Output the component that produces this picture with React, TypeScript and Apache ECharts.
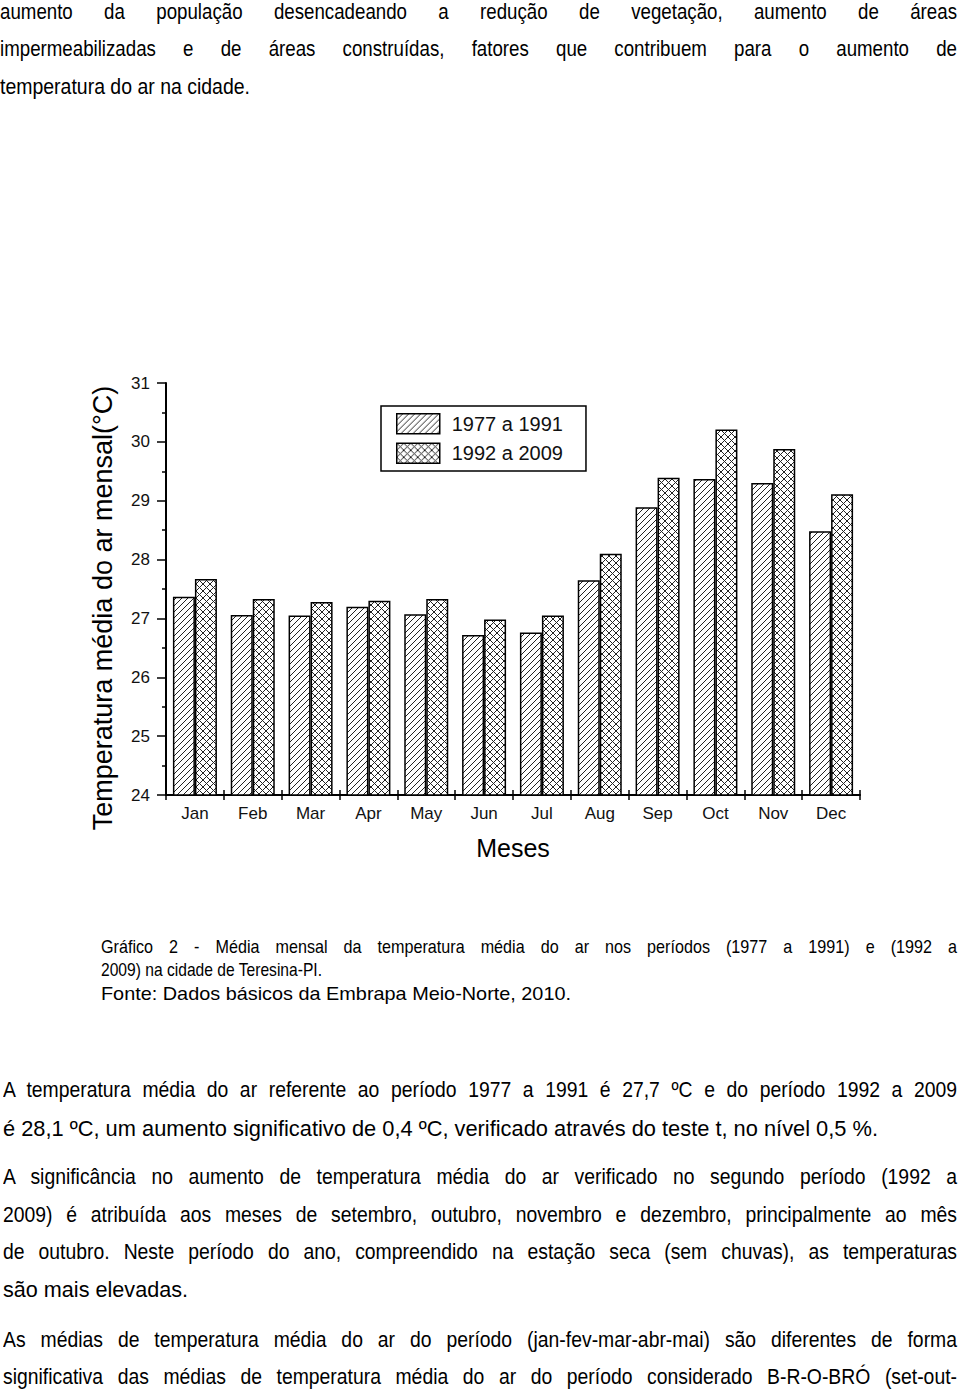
import React, { useEffect, useLayoutEffect, useRef } from "react";
import * as echarts from "echarts";

const months = ["Jan", "Feb", "Mar", "Apr", "May", "Jun", "Jul", "Aug", "Sep", "Oct", "Nov", "Dec"];
const seriesNames = ["1977 a 1991", "1992 a 2009"];
const temps1977 = [27.37, 27.06, 27.05, 27.2, 27.07, 26.72, 26.76, 27.65, 28.89, 29.37, 29.3, 28.48];
const temps1992 = [27.67, 27.33, 27.28, 27.3, 27.33, 26.98, 27.05, 28.1, 29.39, 30.21, 29.88, 29.11];
const yMin = 24;
const yMax = 31;
const yTitle = "Temperatura média do ar mensal(°C)";
const xTitle = "Meses";

type Line = { text: string; y: number; justify: boolean; right: number };

const topLines: Line[] = [
  { text: "aumento da população desencadeando a redução de vegetação, aumento de áreas", y: 12, justify: true, right: 957 },
  { text: "impermeabilizadas e de áreas construídas, fatores que contribuem para o aumento de", y: 49, justify: true, right: 957 },
  { text: "temperatura do ar na cidade.", y: 87, justify: false, right: 250 },
];

const captionLines: Line[] = [
  { text: "Gráfico 2 - Média mensal da temperatura média do ar nos períodos (1977 a 1991) e (1992 a", y: 947, justify: true, right: 957 },
  { text: "2009) na cidade de Teresina-PI.", y: 970, justify: false, right: 322 },
  { text: "Fonte: Dados básicos da Embrapa Meio-Norte, 2010.", y: 994, justify: false, right: 571 },
];

const bottomLines: Line[] = [
  { text: "A temperatura média do ar referente ao período 1977 a 1991 é 27,7 ºC e do período 1992 a 2009", y: 1090, justify: true, right: 957 },
  { text: "é 28,1 ºC, um aumento significativo de 0,4 ºC, verificado através do teste t, no nível 0,5 %.", y: 1129, justify: false, right: 878 },
  { text: "A significância no aumento de temperatura média do ar verificado no segundo período (1992 a", y: 1177, justify: true, right: 957 },
  { text: "2009) é atribuída aos meses de setembro, outubro, novembro e dezembro, principalmente ao mês", y: 1215, justify: true, right: 957 },
  { text: "de outubro. Neste período do ano, compreendido na estação seca (sem chuvas), as temperaturas", y: 1252, justify: true, right: 957 },
  { text: "são mais elevadas.", y: 1290, justify: false, right: 188 },
  { text: "As médias de temperatura média do ar do período (jan-fev-mar-abr-mai) são diferentes de forma", y: 1340, justify: true, right: 957 },
  { text: "significativa das médias de temperatura média do ar do período considerado B-R-O-BRÓ (set-out-", y: 1377, justify: true, right: 957 },
];

const FONT = '"Liberation Sans Narrow", "Arial Narrow", "Liberation Sans", Arial, sans-serif';

function makeHatch(p: number, cross: boolean) {
  const c = document.createElement("canvas");
  c.width = p;
  c.height = p;
  const ctx = c.getContext("2d")!;
  ctx.fillStyle = "#fff";
  ctx.fillRect(0, 0, p, p);
  ctx.strokeStyle = "#222";
  ctx.lineWidth = 1;
  ctx.beginPath();
  ctx.moveTo(-1, p + 1);
  ctx.lineTo(p + 1, -1);
  ctx.moveTo(-1, 1);
  ctx.lineTo(1, -1);
  ctx.moveTo(p - 1, p + 1);
  ctx.lineTo(p + 1, p - 1);
  if (cross) {
    ctx.moveTo(-1, -1);
    ctx.lineTo(p + 1, p + 1);
    ctx.moveTo(p - 1, -1);
    ctx.lineTo(p + 1, 1);
    ctx.moveTo(-1, p - 1);
    ctx.lineTo(1, p + 1);
  }
  ctx.stroke();
  return c;
}

function TextLine({ line, left, size, k }: { line: Line; left: number; size: number; k: number }) {
  const h = 30;
  const inner = useRef<HTMLSpanElement>(null);
  const target = line.right - left;
  useLayoutEffect(() => {
    const el = inner.current;
    if (!el) return;
    el.style.width = "auto";
    el.style.transform = "none";
    const natural = el.getBoundingClientRect().width;
    if (line.justify) {
      let kk = k;
      if (natural * kk > target * 0.97) kk = (target * 0.97) / natural;
      el.style.width = target / kk + "px";
      el.style.transform = `scaleX(${kk})`;
    } else {
      el.style.transform = `scaleX(${target / natural})`;
    }
  }, []);
  return (
    <div
      style={{
        position: "absolute",
        left,
        top: line.y - h / 2,
        height: h,
        lineHeight: h + "px",
        fontSize: size,
        fontFamily: FONT,
        color: "#000",
        whiteSpace: "nowrap",
      }}
    >
      <span
        ref={inner}
        style={{
          display: "inline-block",
          whiteSpace: "nowrap",
          transformOrigin: "0 50%",
          textAlign: line.justify ? "justify" : "left",
          textAlignLast: line.justify ? "justify" : "left",
        } as React.CSSProperties}
      >
        {line.text}
      </span>
    </div>
  );
}

function Chart() {
  const ref = useRef<HTMLDivElement>(null);
  useEffect(() => {
    if (!ref.current) return;
    const chart = echarts.init(ref.current, null, { renderer: "svg" });
    const p1 = makeHatch(6, false);
    const p2 = makeHatch(7, true);
    const axisFont = '"Liberation Sans", Arial, sans-serif';
    chart.setOption({
      animation: false,
      backgroundColor: "transparent",
      grid: { left: 166, width: 694, top: 23, height: 412, containLabel: false },
      legend: {
        left: 381,
        top: 46,
        orient: "vertical",
        itemWidth: 43,
        itemHeight: 20,
        itemGap: 8,
        padding: [7, 23, 7, 15],
        borderColor: "#000",
        borderWidth: 1.5,
        backgroundColor: "#fff",
        icon: "rect",
        data: seriesNames,
        textStyle: { fontSize: 20, color: "#111", fontFamily: axisFont, padding: [0, 0, 0, 7] },
        itemStyle: { borderColor: "#000", borderWidth: 1.5 },
      },
      xAxis: [
        {
          type: "category",
          data: months,
          name: xTitle,
          nameLocation: "middle",
          nameGap: 40,
          nameTextStyle: { fontSize: 25, color: "#000", fontFamily: axisFont },
          axisLine: { lineStyle: { color: "#000", width: 2 } },
          axisTick: { show: true, length: 5, lineStyle: { color: "#000", width: 1.5 } },
          axisLabel: { fontSize: 17, color: "#111", margin: 10, fontFamily: axisFont },
        },
        {
          type: "category",
          data: months,
          position: "bottom",
          axisLine: { show: false },
          axisTick: { show: true, inside: true, length: 5, lineStyle: { color: "#000", width: 1.5 } },
          axisLabel: { show: false },
        },
      ],
      yAxis: {
        type: "value",
        min: yMin,
        max: yMax,
        interval: 1,
        axisLine: { show: true, lineStyle: { color: "#000", width: 2 } },
        axisTick: { show: true, length: 9, lineStyle: { color: "#000", width: 1.5 } },
        minorTick: { show: true, splitNumber: 2, length: 4, lineStyle: { color: "#000", width: 1.5 } },
        splitLine: { show: false },
        axisLabel: { fontSize: 17, color: "#111", margin: 16, fontFamily: axisFont },
      },
      graphic: [
        {
          type: "text",
          x: 103,
          y: 248,
          rotation: Math.PI / 2,
          style: {
            text: yTitle,
            font: "27px " + axisFont,
            fill: "#000",
            align: "center",
            verticalAlign: "middle",
          },
        },
      ],
      series: [
        {
          name: seriesNames[0],
          type: "bar",
          data: temps1977,
          barWidth: 22,
          barGap: "0%",
          itemStyle: {
            color: { image: p1, repeat: "repeat", imageWidth: 6, imageHeight: 6 },
            borderColor: "#000",
            borderWidth: 1.5,
          },
        },
        {
          name: seriesNames[1],
          type: "bar",
          data: temps1992,
          barWidth: 22,
          barGap: "0%",
          itemStyle: {
            color: { image: p2, repeat: "repeat", imageWidth: 7, imageHeight: 7 },
            borderColor: "#000",
            borderWidth: 1.5,
          },
        },
      ],
    });
    return () => chart.dispose();
  }, []);
  return <div ref={ref} style={{ position: "absolute", left: 0, top: 360, width: 960, height: 520 }} />;
}

export default function App() {
  return (
    <div style={{ position: "absolute", left: 0, top: 0, width: 960, height: 1390, background: "#fff", overflow: "hidden" }}>
      {topLines.map((l, i) => (
        <TextLine key={"t" + i} line={l} left={0} size={22} k={0.85} />
      ))}
      <Chart />
      {captionLines.map((l, i) => (
        <TextLine key={"c" + i} line={l} left={101} size={19} k={0.85} />
      ))}
      {bottomLines.map((l, i) => (
        <TextLine key={"b" + i} line={l} left={3} size={22} k={0.88} />
      ))}
    </div>
  );
}
